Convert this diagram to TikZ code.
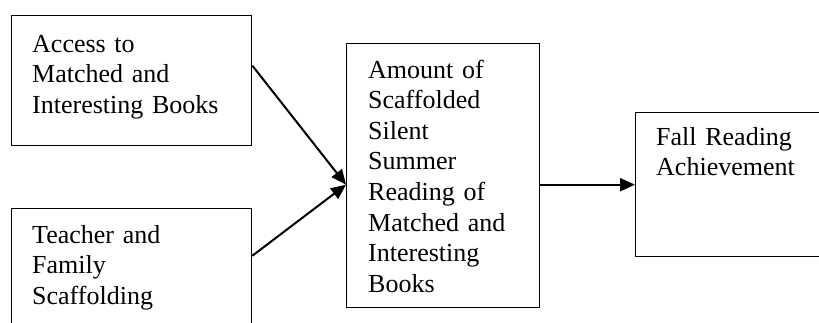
\documentclass[tikz,border=0pt]{standalone}
\usepackage{fontspec}
\setmainfont{Liberation Serif}
\usetikzlibrary{arrows.meta}
\begin{document}
\begin{tikzpicture}[x=1pt,y=-1pt,font=\fontsize{26}{30.6}\selectfont,
  box/.style={draw, line width=1.4pt, inner sep=0pt, anchor=north west},
  boxtext/.style={inner sep=0pt, anchor=base west, text width=190pt, align=left},
  link/.style={line width=2pt, -{Triangle[length=15pt,width=13pt]}}]

\clip (0,0) rectangle (819,322);
\fill[white] (0,0) rectangle (819,322);

\node[box, minimum width=240pt, minimum height=130pt] (access) at (11,15) {};
\node[boxtext] (accesstext) at (32,52) {Access to\\Matched and\\Interesting Books};

\node[box, minimum width=240pt, minimum height=130pt] (teacher) at (11,208) {};
\node[boxtext] (teachertext) at (32,243) {Teacher and\\Family\\Scaffolding};

\node[box, minimum width=193pt, minimum height=264pt] (amount) at (346,43) {};
\node[boxtext] (amounttext) at (368,78) {Amount of\\Scaffolded\\Silent\\Summer\\Reading of\\Matched and\\Interesting\\Books};

\node[box, minimum width=200pt, minimum height=144pt] (fall) at (635,112) {};
\node[boxtext] (falltext) at (656,145) {Fall Reading\\Achievement};

\coordinate (join) at (amount.west |- fall.west);
\draw[link] ([yshift=15pt]access.east) -- (join);
\draw[link] ([yshift=18pt]teacher.east) -- (join);
\draw[link] (amount.east |- fall.west) -- (fall.west);

\end{tikzpicture}
\end{document}
